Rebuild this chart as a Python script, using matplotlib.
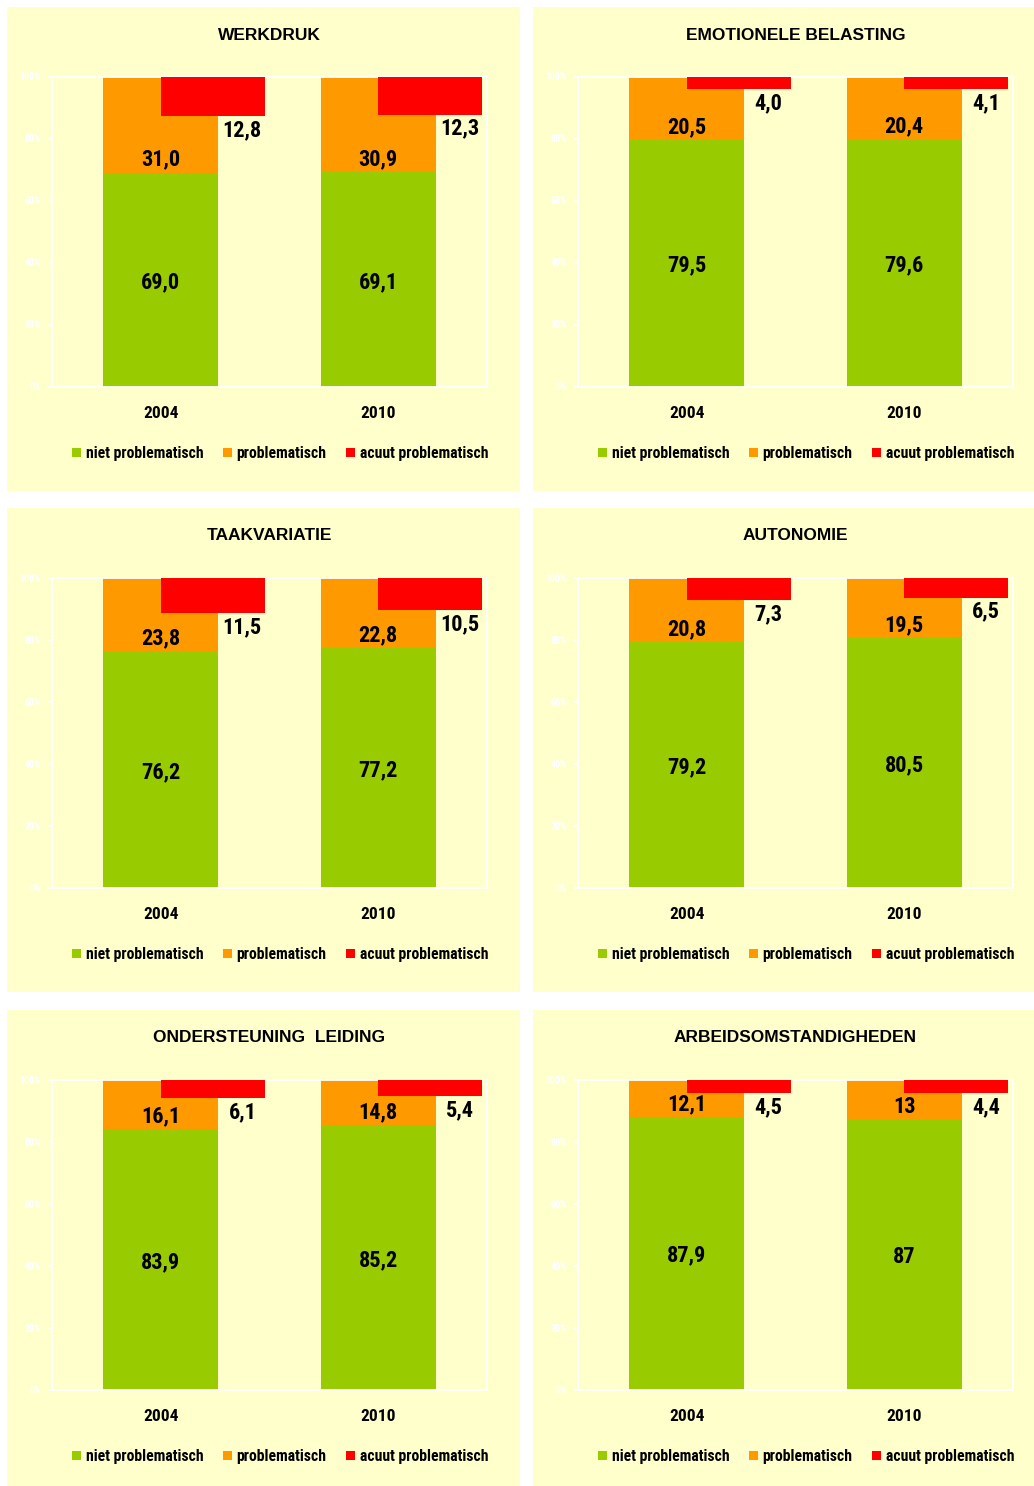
import matplotlib
matplotlib.use("Agg")
import matplotlib.pyplot as plt
from matplotlib.patches import Patch, Rectangle

# ---------------- data ----------------
titles = ["WERKDRUK", "EMOTIONELE BELASTING", "TAAKVARIATIE",
          "AUTONOMIE", "ONDERSTEUNING  LEIDING", "ARBEIDSOMSTANDIGHEDEN"]
years = ["2004", "2010"]
series_names = ["niet problematisch", "problematisch", "acuut problematisch"]

niet = [["69,0", "69,1"], ["79,5", "79,6"], ["76,2", "77,2"],
        ["79,2", "80,5"], ["83,9", "85,2"], ["87,9", "87"]]
probl = [["31,0", "30,9"], ["20,5", "20,4"], ["23,8", "22,8"],
         ["20,8", "19,5"], ["16,1", "14,8"], ["12,1", "13"]]
acuut = [["12,8", "12,3"], ["4,0", "4,1"], ["11,5", "10,5"],
         ["7,3", "6,5"], ["6,1", "5,4"], ["4,5", "4,4"]]

yticks = [0, 20, 40, 60, 80, 100]
ytick_labels = ["0%", "20%", "40%", "60%", "80%", "100%"]

# ---------------- style ----------------
GREEN = "#99CC00"
ORANGE = "#FF9900"
RED = "#FF0000"
BG = "#FFFFCC"
NARROW = ["Roboto Condensed", "Liberation Sans"]
WIDE = ["Liberation Sans", "DejaVu Sans"]

W, H = 1034, 1486
fig = plt.figure(figsize=(W / 100, H / 100), dpi=100)
fig.patch.set_facecolor("white")

col_x = [(7, 520), (533, 1034)]
row_y = [(7, 491), (508, 992), (1010, 1486)]


def fig_rect(x0, y0, x1, y1):
    return [x0 / W, 1 - y1 / H, (x1 - x0) / W, (y1 - y0) / H]


def num(s):
    return float(s.replace(",", "."))


for i, title in enumerate(titles):
    r, c = divmod(i, 2)
    px0, px1 = col_x[c]
    py0, py1 = row_y[r]
    rect = fig_rect(px0, py0, px1, py1)
    fig.add_artist(Rectangle((rect[0], rect[1]), rect[2], rect[3],
                             transform=fig.transFigure, facecolor=BG,
                             edgecolor="none", zorder=-1))

    ax = fig.add_axes(fig_rect(px0 + 45, py0 + 69.5, px0 + 480, py0 + 379.5))
    ax.set_facecolor(BG)

    g = [num(v) for v in niet[i]]
    o = [num(v) for v in probl[i]]
    a = [num(v) for v in acuut[i]]
    x = list(range(len(years)))

    ax.bar(x, g, width=0.53, color=GREEN, zorder=2, linewidth=0)
    ax.bar(x, o, bottom=g, width=0.53, color=ORANGE, zorder=2, linewidth=0)
    ax.bar(x, a, bottom=[100 - v for v in a], width=0.478, align="edge",
           color=RED, zorder=3, linewidth=0)

    lab_kw = dict(ha="center", va="center_baseline", fontsize=16,
                  fontweight="bold", family=NARROW, color="black", zorder=5)
    for j in x:
        ax.text(j, g[j] / 2, niet[i][j], **lab_kw)
        ax.text(j, g[j] + 5.0, probl[i][j], **lab_kw)
        ax.text(j + 0.375, 100 - a[j] - 3.7, acuut[i][j], **lab_kw)

    ax.set_xlim(-0.5, 1.5)
    ax.set_ylim(0, 100)
    ax.set_xticks(x)
    ax.set_xticklabels(years, fontsize=12.5, fontweight="bold", family=NARROW)
    ax.tick_params(axis="x", length=0, pad=14)
    ax.set_yticks(yticks)
    ax.set_yticklabels(ytick_labels, fontsize=7, fontweight="bold",
                       family=NARROW, color="white")
    ax.tick_params(axis="y", direction="out", length=3, width=1.2,
                   color="white", pad=5)
    for s in ax.spines.values():
        s.set_color("white")
        s.set_linewidth(1.3)

    handles = [Patch(facecolor=col, edgecolor="none") for col in (GREEN, ORANGE, RED)]
    ax.legend(handles, series_names, loc="center right",
              bbox_to_anchor=(1.0 + 1.5 / 435, -67 / 310), ncol=3,
              frameon=False, handlelength=0.57, handleheight=0.57,
              handletextpad=0.3, columnspacing=1.25, borderpad=0,
              borderaxespad=0,
              prop=dict(family=NARROW, weight="bold", size=11.3))

    cx = (px0 + 45 + px0 + 480) / 2
    fig.text(cx / W, 1 - (py0 + 26.5) / H, title, ha="center",
             va="center_baseline", fontsize=12.5, fontweight="bold",
             family=WIDE, color="black")

fig.savefig("out.png", dpi=100, facecolor=fig.get_facecolor())
